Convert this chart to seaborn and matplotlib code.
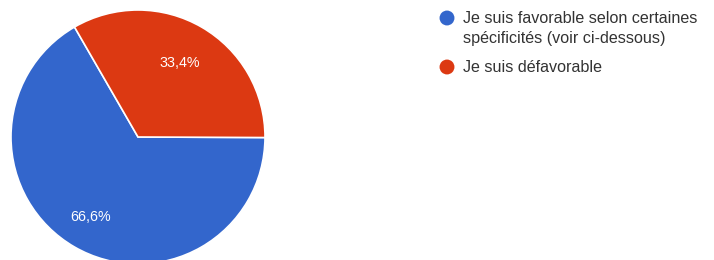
import numpy as np
import matplotlib.pyplot as plt
import seaborn as sns

labels = ['Je suis favorable selon certaines\nspécificités (voir ci-dessous)', 'Je suis défavorable']
values = [66.6, 33.4]
pct_labels = ['66,6%', '33,4%']
colors = ['#3366cc', '#dc3912']

sns.set_style('white')
plt.rcParams['font.family'] = ['Liberation Sans', 'DejaVu Sans']

W, H = 714, 260
fig = plt.figure(figsize=(W / 100, H / 100), dpi=100)

# camembert : centre ~ (138, 137) px, rayon ~ 127 px
cx, cy, r = 138, 137, 127
ax = fig.add_axes([(cx - r) / W, (H - cy - r) / H, 2 * r / W, 2 * r / H])
wedges, _ = ax.pie(values, colors=colors, startangle=120, counterclock=True,
                   radius=1, wedgeprops=dict(edgecolor='white', linewidth=1.2))
for w, txt in zip(wedges, pct_labels):
    ang = np.deg2rad((w.theta1 + w.theta2) / 2)
    ax.text(0.70 * np.cos(ang) - 0.02, 0.70 * np.sin(ang) - 0.025, txt, color='white',
            ha='center', va='center', fontsize=10.3)
ax.set_xlim(-1, 1)
ax.set_ylim(-1, 1)
ax.set_aspect('equal')
ax.axis('off')

# légende
leg = fig.add_axes([0, 0, 1, 1])
leg.set_xlim(0, W)
leg.set_ylim(H, 0)
leg.axis('off')
rows = [18, 67]
for y, lab, c in zip(rows, labels, colors):
    leg.scatter([447], [y], s=115, color=c, edgecolor='none')
    leg.text(463, y - 7, lab, ha='left', va='top', fontsize=11.6,
             color='#333333', linespacing=1.45)

fig.savefig('out.png', dpi=100)
